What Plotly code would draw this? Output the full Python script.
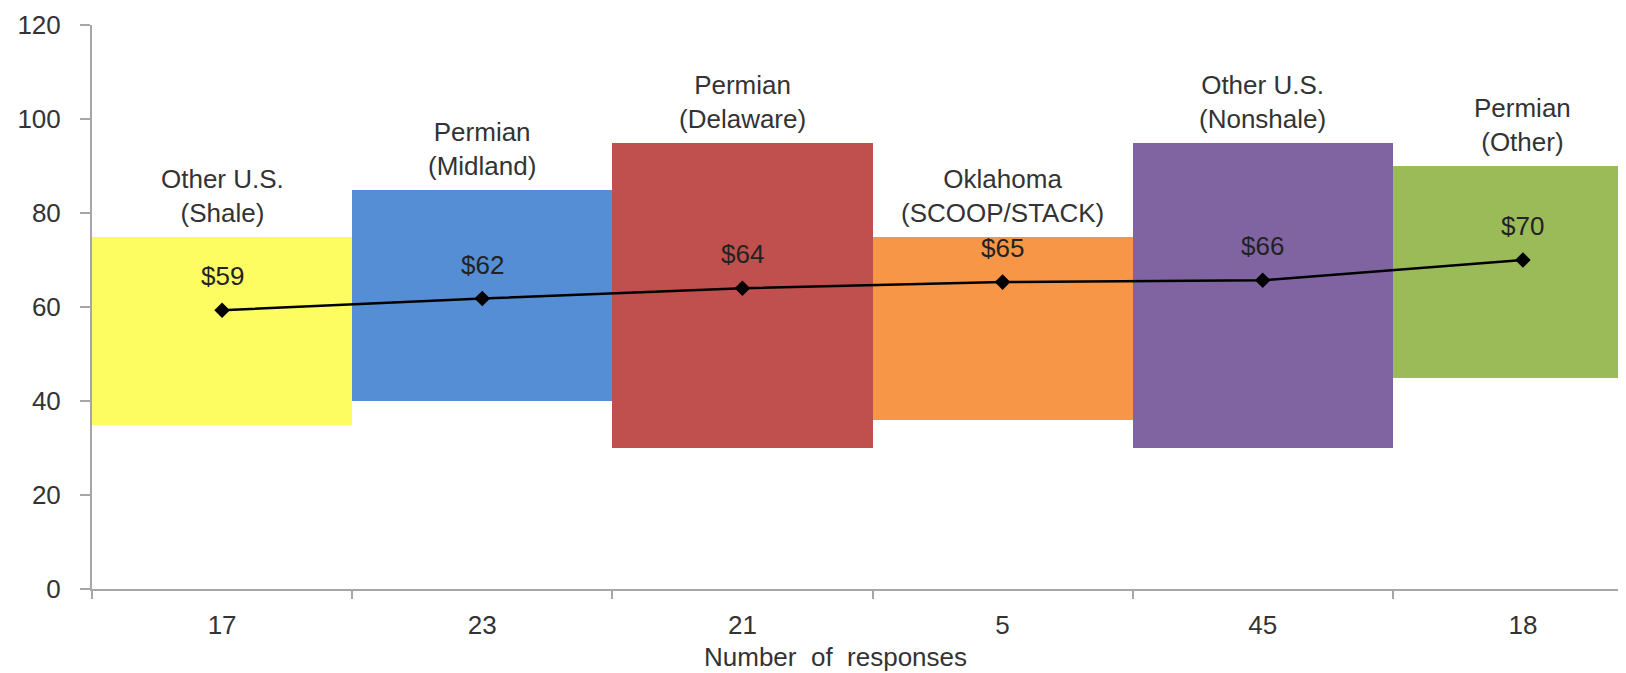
import plotly.graph_objects as go

# Data
regions = ["Other U.S.<br>(Shale)", "Permian<br>(Midland)", "Permian<br>(Delaware)",
           "Oklahoma<br>(SCOOP/STACK)", "Other U.S.<br>(Nonshale)", "Permian<br>(Other)"]
responses = ["17", "23", "21", "5", "45", "18"]
range_low = [35, 40, 30, 36, 30, 45]
range_high = [75, 85, 95, 75, 95, 90]
avg_price = [59.3, 61.8, 64.0, 65.3, 65.7, 70.0]
colors = ["#FDFD62", "#558ED5", "#C0504D", "#F79646", "#8064A2", "#9BBB59"]

FONT = "Liberation Sans, Arial, sans-serif"
FS = 26
TXT = "#333333"
AX = "#A6A6A6"

fig = go.Figure()
fig.add_trace(go.Bar(
    x=responses,
    y=[h - l for h, l in zip(range_high, range_low)],
    base=range_low,
    marker=dict(color=colors, line=dict(width=0)),
    width=1,
    hoverinfo="skip",
    showlegend=False,
))
fig.add_trace(go.Scatter(
    x=responses, y=avg_price, mode="lines+markers",
    line=dict(color="black", width=2.5),
    marker=dict(symbol="diamond", size=12, color="black"),
    showlegend=False,
))

annotations = []
for i, (name, top) in enumerate(zip(regions, range_high)):
    annotations.append(dict(x=i, y=top, xref="x", yref="y", text=name, showarrow=False,
                            yanchor="bottom", yshift=7,
                            font=dict(family=FONT, size=FS, color=TXT)))
for i, v in enumerate(avg_price):
    annotations.append(dict(x=i, y=v, xref="x", yref="y", text=f"${v:.0f}", showarrow=False,
                            yanchor="bottom", yshift=17,
                            font=dict(family=FONT, size=FS, color="#222222")))
annotations.append(dict(x=0.482, y=0, xref="paper", yref="paper", text="Number  of  responses",
                        showarrow=False, yanchor="middle", yshift=-68,
                        font=dict(family=FONT, size=FS, color=TXT)))

fig.update_layout(
    width=1626, height=673,
    margin=dict(l=84, r=0, t=17, b=92),
    paper_bgcolor="white", plot_bgcolor="white",
    bargap=0,
    annotations=annotations,
    font=dict(family=FONT, size=FS, color=TXT),
)
fig.update_xaxes(
    type="category", categoryorder="array", categoryarray=responses,
    range=[-0.5, 5.427],
    showline=True, linecolor=AX, linewidth=2,
    ticks="outside", tickson="boundaries", ticklen=8, tickcolor=AX, tickwidth=2,
    showgrid=False, zeroline=False,
    tickfont=dict(family=FONT, size=FS, color=TXT),
    ticklabelstandoff=12,
)
fig.update_yaxes(
    range=[0, 120], dtick=20,
    showline=True, linecolor=AX, linewidth=2,
    ticks="outside", ticklen=10, tickcolor=AX, tickwidth=2,
    showgrid=False, zeroline=False,
    tickfont=dict(family=FONT, size=FS, color=TXT),
    ticklabelstandoff=14,
)

fig.write_html("out.html")
